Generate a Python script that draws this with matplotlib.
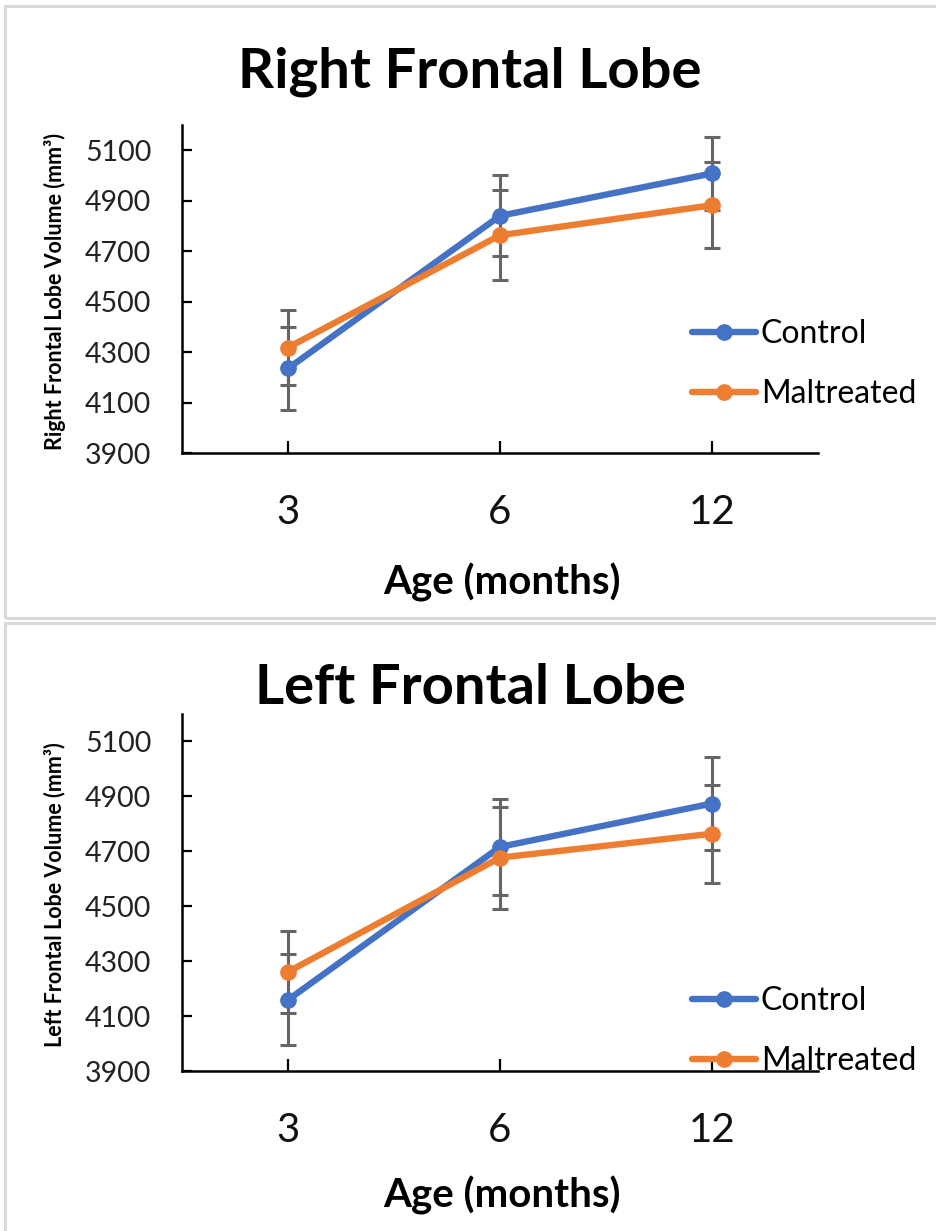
import numpy as np
import matplotlib
matplotlib.use("Agg")
import matplotlib.pyplot as plt
from matplotlib.patches import Rectangle

plt.rcParams['font.family'] = ['Lato', 'DejaVu Sans']

# group means and error bars per age point
ages = ['3', '6', '12']

right_control = [4235, 4840, 5008]
right_control_err = [165, 160, 143]
right_maltreated = [4318, 4763, 4882]
right_maltreated_err = [148, 178, 170]

left_control = [4159, 4716, 4874]
left_control_err = [166, 175, 168]
left_maltreated = [4261, 4677, 4764]
left_maltreated_err = [150, 186, 178]

y_ticks = [3900, 4100, 4300, 4500, 4700, 4900, 5100]

blue = '#4472C4'
orange = '#ED7D31'
err_col = '#666666'

W, H = 936, 1231
fig = plt.figure(figsize=(W / 100, H / 100), dpi=100)


def fx(px):
    return px / W


def fy(py):
    return 1 - py / H


# grey chart-area frames
for top, bot in [(6, 618), (623, 1240)]:
    fig.patches.append(Rectangle((fx(5), fy(bot)), fx(940 - 5), (bot - top) / H,
                                 transform=fig.transFigure, fill=False,
                                 edgecolor='#d9d9d9', linewidth=2.2, zorder=0))


def panel(ax_top, ax_bot, title, title_y, ylab, ctrl, ctrl_err, mal, mal_err,
          tick_y, xlab_y, leg_y):
    ax = fig.add_axes([fx(182), fy(ax_bot), fx(818 - 182), (ax_bot - ax_top) / H])
    x = np.arange(len(ages))
    for vals, errs, col, name in [(ctrl, ctrl_err, blue, 'Control'),
                                  (mal, mal_err, orange, 'Maltreated')]:
        ax.errorbar(x, vals, yerr=errs, fmt='none', ecolor=err_col,
                    elinewidth=2.2, capsize=6, capthick=2.2, zorder=2)
        ax.plot(x, vals, color=col, lw=4.6, marker='o', ms=11,
                solid_capstyle='round', label=name, zorder=3)
    ax.set_xlim(-0.5, 2.5)
    ax.set_ylim(3900, 5200)
    ax.set_yticks(y_ticks)
    ax.set_xticks(x)
    ax.set_xticklabels([])
    ax.tick_params(axis='y', direction='in', length=7, width=1.6,
                   labelsize=20.5, pad=22, labelcolor='#222222')
    ax.tick_params(axis='x', direction='in', length=9, width=1.6)
    for s in ['top', 'right']:
        ax.spines[s].set_visible(False)
    for s in ['left', 'bottom']:
        ax.spines[s].set_linewidth(1.8)
    # category labels under the axis
    for i, a in enumerate(ages):
        fig.text(fx(288 + 212 * i), fy(tick_y), a, ha='center', va='center',
                 fontsize=29, color='#111111')
    fig.text(fx(502), fy(xlab_y), 'Age (months)', ha='center', va='center',
             fontsize=29, fontweight='bold')
    fig.text(fx(470), fy(title_y), title, ha='center', va='center',
             fontsize=40.5, fontweight='bold')
    fig.text(fx(55), fy((ax_top + ax_bot) / 2 + 2), ylab, ha='center', va='center',
             rotation=90, fontsize=15.5, fontweight='bold')
    ax.legend(loc='center left', bbox_to_anchor=(fx(692), fy(leg_y)),
              bbox_transform=fig.transFigure, frameon=False, fontsize=23,
              handlelength=2.0, handletextpad=0.15, labelspacing=0.95,
              borderpad=0, borderaxespad=0)
    return ax


panel(125, 453, 'Right Frontal Lobe', 72, 'Right Frontal Lobe Volume (mm³)',
      right_control, right_control_err, right_maltreated, right_maltreated_err,
      513, 582, 364)
panel(714, 1071, 'Left Frontal Lobe', 688, 'Left Frontal Lobe Volume (mm³)',
      left_control, left_control_err, left_maltreated, left_maltreated_err,
      1130, 1195, 1031)

fig.savefig('out.png', dpi=100)
